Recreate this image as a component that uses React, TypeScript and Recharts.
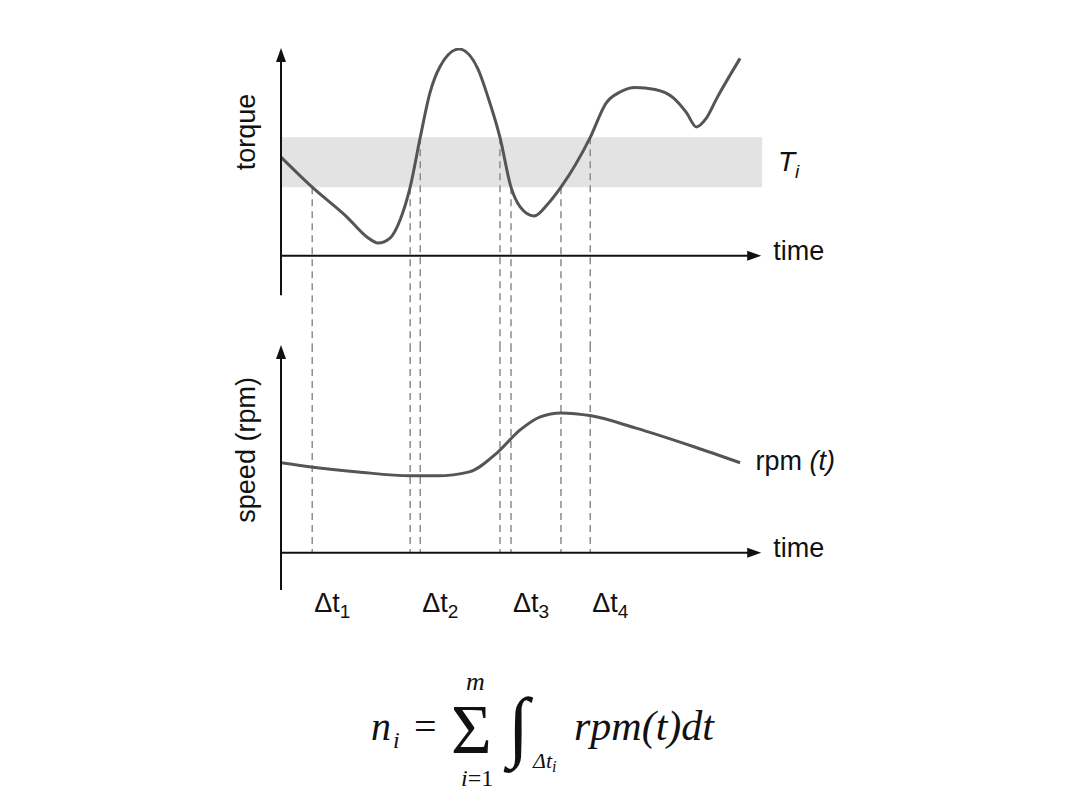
import { LineChart, Line, XAxis, YAxis, ReferenceArea, ReferenceLine, ReferenceDot } from 'recharts';

// torque curve (time in % of the drawn time axis)
const TORQUE_TIME = [0, 6.5, 13.75, 17.9, 20.2, 22.7, 24.8, 26.9, 29, 31, 33.1, 37.1, 41, 43.1, 45.6, 47.9, 49.8, 52.7, 55.6, 58.3, 64.4, 67.7, 70.6, 73.75, 77.9, 81.7, 84.4, 86.5, 88.5, 90.8, 95.6];
const TORQUE = [4.75, 3.3, 1.86, 0.9, 0.61, 0.85, 1.72, 3.3, 5.7, 7.83, 9.1, 9.95, 9.0, 7.64, 5.7, 3.3, 2.35, 1.91, 2.5, 3.3, 5.7, 7.35, 7.88, 8.1, 8.0, 7.6, 6.9, 6.2, 6.6, 7.6, 9.5];

// speed curve
const SPEED_TIME = [0, 6.25, 16, 27, 32.5, 39.2, 45, 49.8, 54, 58.3, 64.6, 73.75, 86, 95.6];
const SPEED = [43.3, 41.3, 38.9, 37.0, 37.0, 38.9, 48.1, 59.1, 65.4, 67.3, 65.9, 60.1, 51, 43.3];

// torque band T_i and the times where the curve crosses it
const BAND = [3.3, 5.7];
const CROSS_TIME = [6.5, 26.9, 29, 45.6, 47.9, 58.3, 64.4];
const CROSS_LEVEL = [3.3, 3.3, 5.7, 5.7, 3.3, 3.3, 5.7];
const DELTA_LABELS = ['1', '2', '3', '4'];
const DELTA_AT = [6.5, 29, 47.9, 64.4];

const torqueData = TORQUE_TIME.map((t, i) => ({ t, v: TORQUE[i] }));
const speedData = SPEED_TIME.map((t, i) => ({ t, v: SPEED[i] }));

const SANS = '"Liberation Sans", Arial, sans-serif';
const SERIF = '"Liberation Serif", "Times New Roman", serif';
const INK = '#111';
const CURVE = '#555';
const DASH = '#8c8c8c';

const Arrow = (p: any) => {
  const { x1, y1, x2, y2 } = p;
  const dx = x2 - x1;
  const dy = y2 - y1;
  const len = Math.hypot(dx, dy) || 1;
  const ux = dx / len;
  const uy = dy / len;
  const L = 14;
  const W = 5;
  const bx = x2 - ux * L;
  const by = y2 - uy * L;
  return (
    <g>
      <line x1={x1} y1={y1} x2={bx + ux * 2} y2={by + uy * 2} stroke={INK} strokeWidth={2} />
      <polygon
        points={`${x2},${y2} ${bx - uy * W},${by + ux * W} ${bx + uy * W},${by - ux * W}`}
        fill={INK}
      />
    </g>
  );
};

const sideText = (text: string, dy: number) => (p: any) => (
  <text x={p.cx} y={p.cy + dy} fontFamily={SANS} fontSize={27} fill={INK}>
    {text}
  </text>
);

const rotatedText = (text: string) => (p: any) => (
  <text
    x={p.cx}
    y={p.cy}
    transform={`rotate(-90 ${p.cx} ${p.cy})`}
    textAnchor="middle"
    dominantBaseline="central"
    fontFamily={SANS}
    fontSize={27}
    fill={INK}
  >
    {text}
  </text>
);

const TiLabel = (p: any) => (
  <text x={p.cx} y={p.cy + 9} fontFamily={SANS} fontSize={28} fill={INK} fontStyle="italic">
    T<tspan fontSize={19} dy={7}>i</tspan>
  </text>
);

const RpmLabel = (p: any) => (
  <text x={p.cx} y={p.cy + 7} fontFamily={SANS} fontSize={27} fill={INK}>
    rpm <tspan fontStyle="italic">(t)</tspan>
  </text>
);

const deltaLabel = (sub: string) => (p: any) => (
  <text x={p.cx + 2} y={p.cy + 9} fontFamily={SANS} fontSize={27} fill={INK}>
    Δt<tspan fontSize={19} dy={6}>{sub}</tspan>
  </text>
);

const Formula = () => (
  <svg width={1080} height={810} style={{ position: 'absolute', left: 0, top: 0 }}>
    <g fontFamily={SERIF} fill={INK}>
      <text x={371} y={740} fontSize={40} fontStyle="italic">n</text>
      <text x={393} y={748} fontSize={24} fontStyle="italic">i</text>
      <text x={414} y={740} fontSize={40}>=</text>
      <text x={451} y={753} fontSize={70}>Σ</text>
      <text x={466} y={690} fontSize={26} fontStyle="italic">m</text>
      <text x={461} y={786} fontSize={24}>
        <tspan fontStyle="italic">i</tspan>=1
      </text>
      <text x={508} y={752} fontSize={78}>∫</text>
      <text x={533} y={768} fontSize={22} fontStyle="italic">
        Δt<tspan fontSize={16} dy={4}>i</tspan>
      </text>
      <text x={574} y={740} fontSize={42} fontStyle="italic">rpm(t)dt</text>
    </g>
  </svg>
);

export default function App() {
  return (
    <div style={{ position: 'absolute', left: 0, top: 0, width: 1080, height: 810, background: '#fff' }}>
      <div style={{ position: 'absolute', left: 0, top: 0 }}>
        <LineChart width={1080} height={345} data={torqueData} margin={{ top: 48, right: 314, bottom: 0, left: 281 }}>
          <XAxis type="number" dataKey="t" domain={[0, 101]} allowDataOverflow hide />
          <YAxis type="number" domain={[-4.3, 10]} allowDataOverflow hide />
          <ReferenceArea x1={0} x2={100.2} y1={BAND[0]} y2={BAND[1]} fill="#e3e3e3" fillOpacity={1} stroke="none" ifOverflow="visible" />
          {CROSS_TIME.map((t, i) => (
            <ReferenceLine
              key={i}
              segment={[{ x: t, y: CROSS_LEVEL[i] }, { x: t, y: -4.3 }]}
              stroke={DASH}
              strokeWidth={1.5}
              strokeDasharray="7 5"
              ifOverflow="visible"
            />
          ))}
          <Line type="monotone" dataKey="v" stroke={CURVE} strokeWidth={3} dot={false} isAnimationActive={false} />
          <ReferenceLine segment={[{ x: 0, y: -1.9 }, { x: 0, y: 10 }]} shape={Arrow} ifOverflow="visible" />
          <ReferenceLine segment={[{ x: 0, y: 0 }, { x: 100, y: 0 }]} shape={Arrow} ifOverflow="visible" />
          <ReferenceDot x={102.5} y={0} r={0} shape={sideText('time', 4)} ifOverflow="visible" />
          <ReferenceDot x={103.5} y={4.5} r={0} shape={TiLabel} ifOverflow="visible" />
          <ReferenceDot x={-7.3} y={5.96} r={0} shape={rotatedText('torque')} ifOverflow="visible" />
        </LineChart>
      </div>
      <div style={{ position: 'absolute', left: 0, top: 340 }}>
        <LineChart width={1080} height={310} data={speedData} margin={{ top: 5, right: 314, bottom: 35, left: 281 }}>
          <XAxis type="number" dataKey="t" domain={[0, 101]} allowDataOverflow hide />
          <YAxis type="number" domain={[-30, 100]} allowDataOverflow hide />
          {CROSS_TIME.map((t, i) => (
            <ReferenceLine
              key={i}
              segment={[{ x: t, y: 100 }, { x: t, y: 0 }]}
              stroke={DASH}
              strokeWidth={1.5}
              strokeDasharray="7 5"
              ifOverflow="visible"
            />
          ))}
          <Line type="monotone" dataKey="v" stroke={CURVE} strokeWidth={3} dot={false} isAnimationActive={false} />
          <ReferenceLine segment={[{ x: 0, y: -18 }, { x: 0, y: 100 }]} shape={Arrow} ifOverflow="visible" />
          <ReferenceLine segment={[{ x: 0, y: 0 }, { x: 100, y: 0 }]} shape={Arrow} ifOverflow="visible" />
          <ReferenceDot x={102.5} y={0} r={0} shape={sideText('time', 4)} ifOverflow="visible" />
          <ReferenceDot x={98.8} y={43.3} r={0} shape={RpmLabel} ifOverflow="visible" />
          <ReferenceDot x={-7.3} y={49.5} r={0} shape={rotatedText('speed (rpm)')} ifOverflow="visible" />
          {DELTA_AT.map((t, i) => (
            <ReferenceDot key={i} x={t} y={-24} r={0} shape={deltaLabel(DELTA_LABELS[i])} ifOverflow="visible" />
          ))}
        </LineChart>
      </div>
      <Formula />
    </div>
  );
}
